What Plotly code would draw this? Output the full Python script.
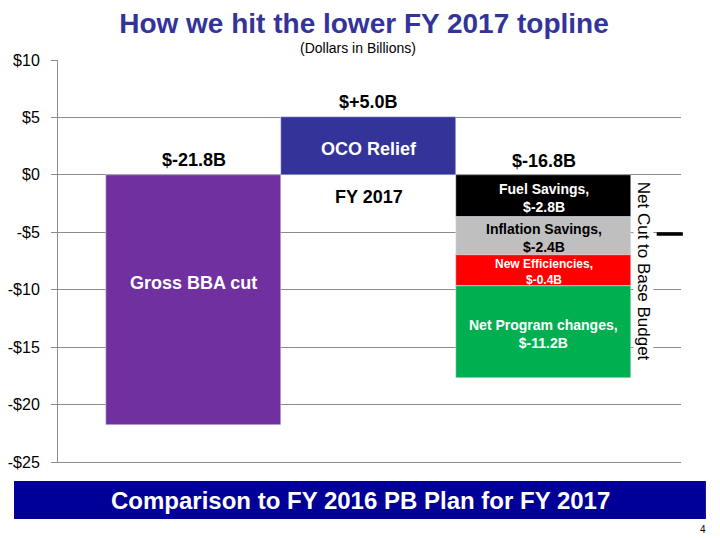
"""Waterfall: how the lower FY 2017 topline was reached"""
import plotly.graph_objects as go

# Data (Dollars in Billions)
gross_cut = -21.8
oco_relief = 5.0
segment_names = ["Fuel Savings,", "Inflation Savings,", "New Efficiencies,", "Net Program changes,"]
segment_labels = ["$-2.8B", "$-2.4B", "$-0.4B", "$-11.2B"]
segment_values = [-3.65, -3.3, -2.7, -8.0]   # heights as drawn
segment_colors = ["#000000", "#BFBFBF", "#FF0000", "#00B050"]
segment_text_colors = ["white", "black", "white", "white"]
segment_font_sizes = [14, 14, 12, 14]
total_labels = ["$-21.8B", "$+5.0B", "$-16.8B"]
tick_vals = [10, 5, 0, -5, -10, -15, -20, -25]
tick_text = ["$10", "$5", "$0", "-$5", "-$10", "-$15", "-$20", "-$25"]

FONT = "Liberation Sans, Arial, sans-serif"
GRID = "#8C8C8C"

fig = go.Figure()

# Gross BBA cut
fig.add_trace(go.Bar(x=[0], y=[gross_cut], width=1, marker_color="#7030A0", showlegend=False))
# OCO relief
fig.add_trace(go.Bar(x=[1], y=[oco_relief], width=1, marker_color="#333399", showlegend=False))
# Net cut to base budget, stacked
for val, col in zip(segment_values, segment_colors):
    fig.add_trace(go.Bar(x=[2], y=[val], width=1, marker_color=col, showlegend=False))

annotations = []

def add_text(x, y, text, size, color="black", bold=True, **kw):
    kw.setdefault("xanchor", "center")
    kw.setdefault("yanchor", "middle")
    annotations.append(dict(
        x=x, y=y, xref=kw.pop("xref", "x"), yref=kw.pop("yref", "y"),
        text=f"<b>{text}</b>" if bold else text, showarrow=False,
        font=dict(family=FONT, size=size, color=color), **kw,
    ))

# totals above bars
add_text(0, 0, total_labels[0], 18, yanchor="bottom", yshift=3)
add_text(1, oco_relief, total_labels[1], 18, yanchor="bottom", yshift=3)
add_text(2, 0, total_labels[2], 18, yanchor="bottom", yshift=2)

# bar captions
add_text(0, -9.4, "Gross BBA cut", 18, color="white")
add_text(1, oco_relief / 2, "OCO Relief", 18, color="white", yshift=-3)
add_text(1, -1.9, "FY 2017", 18)

# segment labels at each segment's centre
base = 0
for name, lab, val, tc, fs in zip(segment_names, segment_labels, segment_values,
                                  segment_text_colors, segment_font_sizes):
    add_text(2, base + val / 2, f"{name}<br>{lab}", fs, color=tc, yshift=-2)
    base += val

# vertical side label
annotations.append(dict(
    x=2.566, y=-8.35, xref="x", yref="y", text="Net Cut to Base Budget", textangle=90,
    showarrow=False, bgcolor="white", borderpad=0,
    font=dict(family=FONT, size=17, color="black"),
))

# subtitle, banner text, page number
add_text(0.4815, 1.03, "(Dollars in Billions)", 14, bold=False, xref="paper", yref="paper")
add_text(0.485, -0.097, "Comparison to FY 2016 PB Plan for FY 2017", 24, color="white",
         xref="paper", yref="paper")
add_text(1.035, -0.169, "4", 10, bold=False, xref="paper", yref="paper")

# page body has an 8px margin, so the figure is 8px smaller and shifted
fig.update_layout(
    width=712,
    height=532,
    margin=dict(l=50, r=39, t=52, b=78),
    paper_bgcolor="white",
    plot_bgcolor="white",
    barmode="relative",
    bargap=0,
    title=dict(
        text="<b>How we hit the lower FY 2017 topline</b>",
        x=0.5, xanchor="center", y=1 - 15 / 532, yanchor="middle",
        font=dict(family=FONT, size=28, color="#333399"),
    ),
    xaxis=dict(
        range=[-0.777, 2.783], showticklabels=False, showgrid=False, zeroline=False,
        showline=True, linecolor=GRID, linewidth=1, ticks="", automargin=False,
    ),
    yaxis=dict(
        range=[-25, 10], tickvals=tick_vals, ticktext=tick_text,
        showgrid=True, gridcolor=GRID, gridwidth=1, zeroline=False,
        showline=True, linecolor=GRID, linewidth=1, automargin=False,
        ticks="outside", ticklen=6, tickcolor=GRID, ticklabelstandoff=8,
        tickfont=dict(family=FONT, size=16, color="black"),
    ),
    annotations=annotations,
    shapes=[
        # blue banner
        dict(type="rect", xref="paper", yref="paper", x0=-0.0706, x1=1.040,
             y0=-0.1418, y1=-0.0473, fillcolor="#000099", line=dict(width=0)),
        # short marker line to the right
        dict(type="line", xref="paper", yref="y", x0=0.961, x1=1.003,
             y0=-5.15, y1=-5.15, line=dict(color="black", width=3.5)),
    ],
)

fig.write_html("out.html")
